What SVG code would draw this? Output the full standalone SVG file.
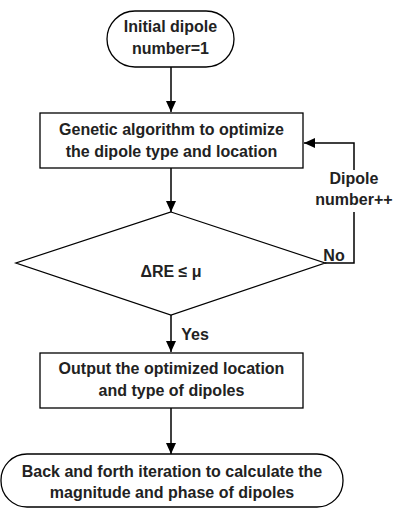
<svg xmlns="http://www.w3.org/2000/svg" width="394" height="510" viewBox="0 0 394 510">
<style>
.s{fill:#fff;stroke:#000;stroke-width:1.3}
.t{font-family:"Liberation Sans",Arial,sans-serif;font-weight:bold;font-size:16px;fill:#222;text-anchor:middle}
.c{fill:none;stroke:#000;stroke-width:1.5}
</style>
<defs>
<marker id="a" viewBox="0 0 10 10" refX="10" refY="5" markerWidth="11" markerHeight="10" markerUnits="userSpaceOnUse" orient="auto" preserveAspectRatio="none"><path d="M0,0L10,5L0,10z" fill="#000"/></marker>
</defs>
<rect width="394" height="510" fill="#fff"/>
<g id="connectors">
<path class="c" d="M171,67V112" marker-end="url(#a)"/>
<path class="c" d="M171,168V212" marker-end="url(#a)"/>
<path class="c" d="M325,263H354V212M354,170V143H304" marker-end="url(#a)"/>
<path class="c" d="M171,315V352" marker-end="url(#a)"/>
<path class="c" d="M171,408V454" marker-end="url(#a)"/>
</g>
<g id="start">
<rect class="s" x="107" y="11" width="127" height="56" rx="28"/>
<text class="t" x="170.5" y="32">Initial dipole</text>
<text class="t" x="170.5" y="54">number=1</text>
</g>
<g id="ga">
<rect class="s" x="40" y="113" width="263" height="55"/>
<text class="t" x="171.5" y="135">Genetic algorithm to optimize</text>
<text class="t" x="171.5" y="157">the dipole type and location</text>
</g>
<g id="decision">
<path class="s" d="M171,212L325,263L171,315L16,263z"/>
<text class="t" x="171" y="277">ΔRE ≤ μ</text>
</g>
<g id="labels">
<text class="t" x="354" y="184">Dipole</text>
<text class="t" x="354" y="205">number++</text>
<text class="t" x="334" y="261">No</text>
<text class="t" x="195" y="340">Yes</text>
</g>
<g id="output">
<rect class="s" x="40" y="353" width="263" height="55"/>
<text class="t" x="171.5" y="374">Output the optimized location</text>
<text class="t" x="171.5" y="396">and type of dipoles</text>
</g>
<g id="end">
<rect class="s" x="1" y="454" width="342" height="53" rx="26"/>
<text class="t" x="172" y="477">Back and forth iteration to calculate the</text>
<text class="t" x="172" y="498">magnitude and phase of dipoles</text>
</g>
</svg>
